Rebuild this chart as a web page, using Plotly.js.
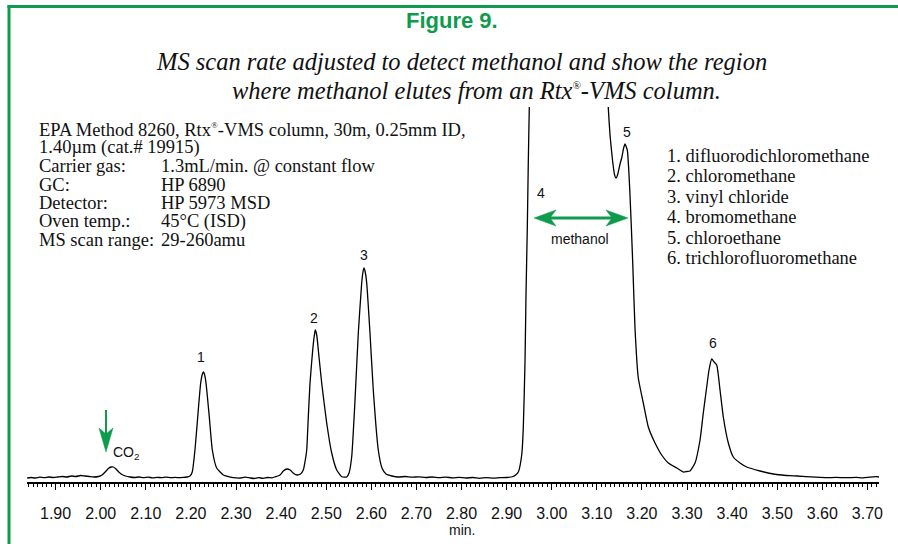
<!DOCTYPE html>
<html>
<head>
<meta charset="utf-8">
<script src="https://cdn.plot.ly/plotly-3.0.1.min.js"></script>
<style>html,body{margin:0;padding:0;background:#fff;}#chart{width:898px;height:544px;}</style>
</head>
<body>
<div id="chart"></div>
<script>
// Retention time (min) and detector signal (arbitrary units)
const timeMin = [
 1.837,1.845,1.855,1.865,1.875,1.885,1.895,1.905,1.915,1.925,1.935,1.945,1.955,1.965,1.975,1.985,1.995,
 2.003,2.010,2.017,2.023,2.028,2.034,2.040,2.047,2.055,2.065,2.075,2.085,2.095,2.105,2.115,2.125,2.135,
 2.145,2.155,2.165,2.175,2.185,2.192,2.198,
 2.203,2.209,2.2164,2.2217,2.2255,2.2275,2.2300,2.2335,2.2408,2.2475,2.2572,2.2718,2.285,2.294,
 2.31,2.32,2.33,2.34,2.35,2.36,2.37,2.38,2.386,2.3976,2.405,2.413,2.42,2.428,2.4353,2.443,
 2.4492,2.4525,2.4568,2.4597,2.4641,2.4701,2.4735,2.4758,2.479,2.4825,2.49,2.5011,2.5122,2.5233,2.5344,2.5455,
 2.5506,2.5565,2.5639,2.5712,2.5787,2.5815,2.5838,2.5865,2.5898,2.5971,2.6044,2.6155,2.6237,2.6326,2.6459,
 2.66,2.675,2.69,2.705,2.72,2.735,2.75,2.765,2.78,2.795,2.81,2.825,2.84,2.855,2.87,2.885,2.90,
 2.9143,2.92,2.926,2.9335,2.937,2.9408,2.943,2.9459,2.9481,2.9503,2.953,2.96,2.99,3.04,3.09,3.115,3.122,
 3.1255,3.1293,3.1353,3.1395,3.1426,3.146,3.1515,3.1552,3.1595,3.1625,3.1676,3.1736,3.1796,3.1847,3.192,
 3.2031,3.2142,3.2291,3.2439,3.2586,3.2772,3.2918,3.3,3.3067,3.3178,3.3289,3.3361,3.3437,3.3488,3.3548,
 3.36,3.3659,3.3732,3.3805,3.3916,3.4027,3.4175,3.4324,3.4619,3.4914,3.51,3.5284,3.545,3.5654,3.585,
 3.6098,3.63,3.6541,3.675,3.69,3.705,3.7206,3.7257
];
const signal = [
 0,0.5,0,0.8,0.3,1,0.5,1,1.5,1,2,1.5,2.5,2,1.5,1,1.5,
 3,6,9.5,11,11,9,6,3.5,2,1,0.5,1,0.3,0.8,0.2,0.6,0.4,
 0.8,0.3,0.6,0.3,0.7,1,2,
 6,28,68,95,104,106,104,95,61,28,10,3,1.2,0.3,
 0,0.8,0.2,-0.5,0.3,-0.3,0.5,0.2,1,3,7,9,8,4.5,3,4,
 8,15,28,55,95,128,142,148,143,128,95,55,25,8,1.3,1,
 5,21,78,145,195,206,210,206,195,145,88,28,10,4,2,
 1,1.5,0.8,1.2,0.5,1,0.3,0.8,0.2,0.6,0,0.5,-0.3,0.4,-0.2,0.3,0.5,
 1.5,3,6,23,50,116,183,250,316,370,430,500,540,555,530,470,410,
 370,343,316,303,300,303,314,320,330,334,328,283,216,150,100,
 75,51,35,23,15,10,6,6.5,7,15,38,65,91,108,119,
 116,113,88,61,35,21,15,11,7,4,3,2.3,2,1.3,0.8,
 0.3,0.6,0.3,0.6,0.2,0.8,1.3,1
];

const peakNumbers = ['1','2','3','4','5','6'];
const compounds = ['difluorodichloromethane','chloromethane','vinyl chloride','bromomethane','chloroethane','trichlorofluoromethane'];
const conditionLabels = ['Carrier gas:','GC:','Detector:','Oven temp.:','MS scan range:'];
const conditionValues = ['1.3mL/min. @ constant flow','HP 6890','HP 5973 MSD','45°C (ISD)','29-260amu'];
const tickVals = [1.9,2.0,2.1,2.2,2.3,2.4,2.5,2.6,2.7,2.8,2.9,3.0,3.1,3.2,3.3,3.4,3.5,3.6,3.7];

// layout geometry (pixels)
const W = 898, H = 544, L = 27, R = 879, T = 107, B = 482;
const GREEN = '#0f9b4e';
function px(x){ return (x - L) / (R - L); }
function py(y){ return (B - y) / (B - T); }
const serif = 'Liberation Serif, Times New Roman, serif';
const sans = 'Liberation Sans, Arial, sans-serif';
const REG = '<sup><span style="font-size:9px">®</span></sup>';
const REG2 = '<sup><span style="font-size:11px">®</span></sup>';

const ann = [];
function txt(x, y, text, opt){
  ann.push(Object.assign({xref:'paper', yref:'paper', x:px(x), y:py(y), text:text, showarrow:false,
    xanchor:'left', yanchor:'middle', font:{family:serif, size:18.5, color:'#111'}}, opt||{}));
}
// titles
txt(452, 21, '<b>Figure 9.</b>', {xanchor:'center', font:{family:sans, size:22, color:GREEN}});
txt(461, 62, '<i>MS scan rate adjusted to detect methanol and show the region</i>', {xanchor:'center', font:{family:serif, size:24.5, color:'#111'}});
txt(476, 90, '<i>where methanol elutes from an Rtx' + REG2 + '-VMS column.</i>', {xanchor:'center', font:{family:serif, size:24.5, color:'#111'}});
// conditions
txt(37, 130, 'EPA Method 8260, Rtx' + REG + '-VMS column, 30m, 0.25mm ID,');
txt(37, 148, '1.40µm (cat.# 19915)');
const condY = [166,185,203,221,240];
conditionLabels.forEach((s,i)=>{ txt(37, condY[i], s); txt(159, condY[i], conditionValues[i]); });
// compound list
const listY = [156,176,197,217,238,258];
compounds.forEach((c,i)=>{ txt(665, listY[i], peakNumbers[i] + '. ' + c, {font:{family:serif, size:18.5, color:'#111'}}); });
// peak labels
const peakLabelPos = [[201,357],[314,318],[364,255],[541,193],[627,132],[713,343]];
peakNumbers.forEach((n,i)=>{ txt(peakLabelPos[i][0], peakLabelPos[i][1], n, {xanchor:'center', font:{family:sans, size:14, color:'#111'}}); });
txt(580, 239, 'methanol', {xanchor:'center', font:{family:sans, size:14, color:'#111'}});
txt(126, 453, 'CO<sub>2</sub>', {xanchor:'center', font:{family:sans, size:14, color:'#111'}});
txt(462, 530, 'min.', {xanchor:'center', font:{family:sans, size:14, color:'#111'}});

// shapes: frame and arrows
function P(x,y){ return px(x).toFixed(5)+','+py(y).toFixed(5); }
const shapes = [
  {type:'line', xref:'paper', yref:'paper', x0:px(7.5), x1:px(898), y0:py(6.5), y1:py(6.5), line:{color:GREEN, width:3}},
  {type:'line', xref:'paper', yref:'paper', x0:px(9), x1:px(9), y0:py(5), y1:py(544), line:{color:GREEN, width:3}},
  // methanol double arrow
  {type:'line', xref:'paper', yref:'paper', x0:px(548), x1:px(614), y0:py(218), y1:py(218), line:{color:GREEN, width:3}},
  {type:'path', xref:'paper', yref:'paper', path:'M'+P(534,218)+' L'+P(556,210)+' L'+P(550,218)+' L'+P(556,226)+' Z', fillcolor:GREEN, line:{color:GREEN, width:0.5}},
  {type:'path', xref:'paper', yref:'paper', path:'M'+P(628,218)+' L'+P(606,210)+' L'+P(612,218)+' L'+P(606,226)+' Z', fillcolor:GREEN, line:{color:GREEN, width:0.5}},
  // CO2 arrow
  {type:'line', xref:'paper', yref:'paper', x0:px(106), x1:px(106), y0:py(410), y1:py(436), line:{color:GREEN, width:2}},
  {type:'path', xref:'paper', yref:'paper', path:'M'+P(106,452)+' L'+P(99,428)+' L'+P(106,434)+' L'+P(113,428)+' Z', fillcolor:GREEN, line:{color:GREEN, width:0.5}}
];

const trace = {x:timeMin, y:signal, type:'scatter', mode:'lines', line:{color:'#000', width:1.3, shape:'spline', smoothing:0.5}, hoverinfo:'skip'};

const layout = {
  width:W, height:H, margin:{l:L, r:W-R, t:T, b:H-B}, paper_bgcolor:'#fff', plot_bgcolor:'#fff', showlegend:false,
  xaxis:{range:[1.8366,3.7257], showline:true, linecolor:'#000', linewidth:1.5, zeroline:false, showgrid:false,
    tickmode:'array', tickvals:tickVals, ticktext:tickVals.map(v=>v.toFixed(2)), ticks:'outside', ticklen:6, tickwidth:1, tickcolor:'#000',
    ticklabelstandoff:10, tickfont:{family:sans, size:16, color:'#111'},
    minor:{dtick:0.01, tick0:1.9, ticks:'outside', ticklen:3, tickwidth:1, tickcolor:'#000', showgrid:false}},
  yaxis:{range:[-4,371], visible:false, fixedrange:true},
  annotations:ann, shapes:shapes
};
Plotly.newPlot('chart', [trace], layout, {displayModeBar:false, staticPlot:true});
</script>
</body>
</html>
